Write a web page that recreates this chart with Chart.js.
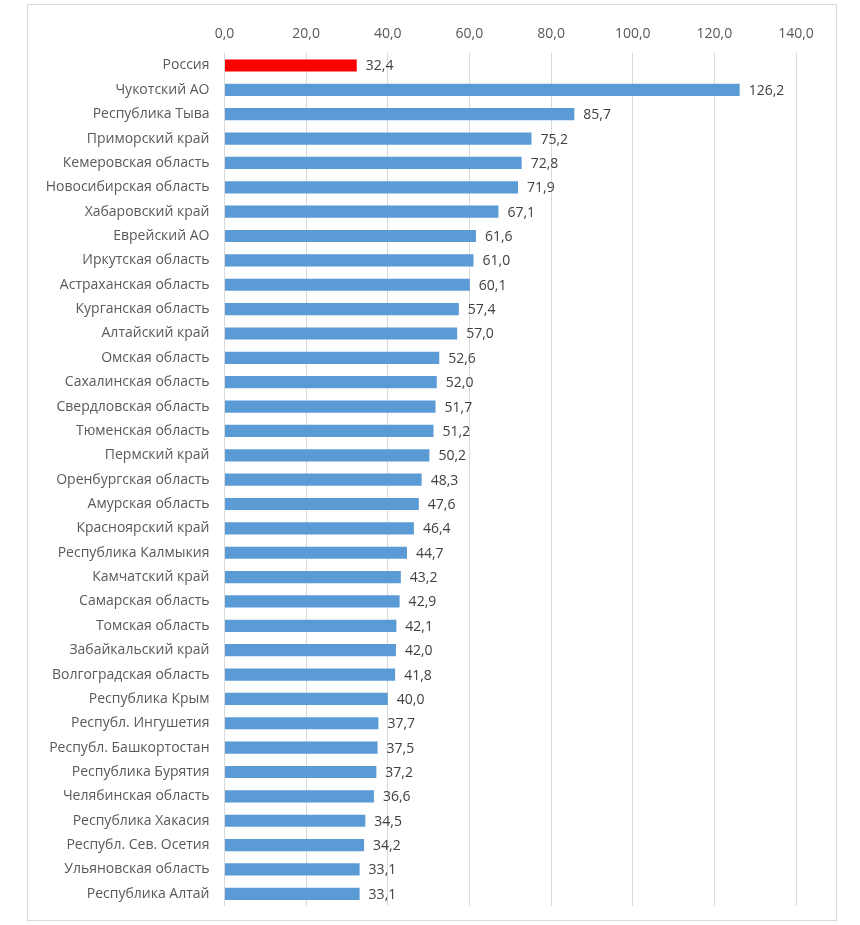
<!DOCTYPE html>
<html>
<head>
<meta charset="utf-8">
<script src="https://cdn.jsdelivr.net/npm/chart.js@4"></script>
<style>
html,body{margin:0;padding:0;background:#fff;}
canvas{display:block;}
</style>
</head>
<body>
<canvas id="c" width="860" height="925"></canvas>
<script>
const categories = [
  "Россия","Чукотский АО","Республика Тыва","Приморский край","Кемеровская область",
  "Новосибирская область","Хабаровский край","Еврейский АО","Иркутская область","Астраханская область",
  "Курганская область","Алтайский край","Омская область","Сахалинская область","Свердловская область",
  "Тюменская область","Пермский край","Оренбургская область","Амурская область","Красноярский край",
  "Республика Калмыкия","Камчатский край","Самарская область","Томская область","Забайкальский край",
  "Волгоградская область","Республика Крым","Республ. Ингушетия","Республ. Башкортостан","Республика Бурятия",
  "Челябинская область","Республика Хакасия","Республ. Сев. Осетия","Ульяновская область","Республика Алтай"
];
const values = [
  32.4,126.2,85.7,75.2,72.8,
  71.9,67.1,61.6,61.0,60.1,
  57.4,57.0,52.6,52.0,51.7,
  51.2,50.2,48.3,47.6,46.4,
  44.7,43.2,42.9,42.1,42.0,
  41.8,40.0,37.7,37.5,37.2,
  36.6,34.5,34.2,33.1,33.1
];
const xTicks = [0,20,40,60,80,100,120,140];

const FONT = "'Open Sans', sans-serif";
const fmt = v => Number(v).toFixed(1).replace('.', ',');

const frame = {
  id: 'frame',
  beforeDraw(chart) {
    const ctx = chart.ctx;
    ctx.save();
    ctx.strokeStyle = '#d9d9d9';
    ctx.lineWidth = 1;
    ctx.strokeRect(27.5, 4.5, 809, 916);
    ctx.restore();
  }
};
const valueLabels = {
  id: 'valueLabels',
  afterDatasetsDraw(chart) {
    const ctx = chart.ctx;
    const meta = chart.getDatasetMeta(0);
    const xs = chart.scales.x;
    ctx.save();
    ctx.font = "14px " + FONT;
    ctx.fillStyle = '#404040';
    ctx.textAlign = 'left';
    ctx.textBaseline = 'middle';
    meta.data.forEach((bar, i) => {
      const v = chart.data.datasets[0].data[i];
      ctx.fillText(fmt(v), xs.getPixelForValue(v) + 9, bar.y + 1);
    });
    ctx.restore();
  }
};

new Chart(document.getElementById('c'), {
  type: 'bar',
  data: {
    labels: categories,
    datasets: [{
      data: values,
      backgroundColor: categories.map((c, i) => i === 0 ? '#ff0000' : '#5b9bd5'),
      borderWidth: 0,
      barPercentage: 0.5,
      categoryPercentage: 1.0
    }]
  },
  options: {
    indexAxis: 'y',
    responsive: false,
    animation: false,
    devicePixelRatio: 1,
    layout: { padding: { left: 0, right: 64, top: 0, bottom: 19 } },
    plugins: { legend: { display: false }, tooltip: { enabled: false } },
    scales: {
      x: {
        position: 'top',
        min: 0, max: 140,
        afterBuildTicks(scale) { scale.ticks = xTicks.map(v => ({ value: v })); },
        afterFit(scale) { scale.height = 53.3; scale.paddingLeft = 0; scale.paddingRight = 0; },
        grid: { color: '#d9d9d9', drawTicks: false, lineWidth: 1 },
        border: { display: false },
        ticks: {
          padding: 11,
          color: '#595959',
          font: { family: FONT, size: 14 },
          callback: v => fmt(v)
        }
      },
      y: {
        afterFit(scale) { scale.width = 224.5; scale.paddingTop = 0; scale.paddingBottom = 0; },
        grid: { display: false, drawTicks: false },
        border: { display: false },
        ticks: {
          padding: 15,
          color: '#595959',
          font: { family: FONT, size: 14 },
          autoSkip: false
        }
      }
    }
  },
  plugins: [frame, valueLabels]
});
</script>
</body>
</html>
